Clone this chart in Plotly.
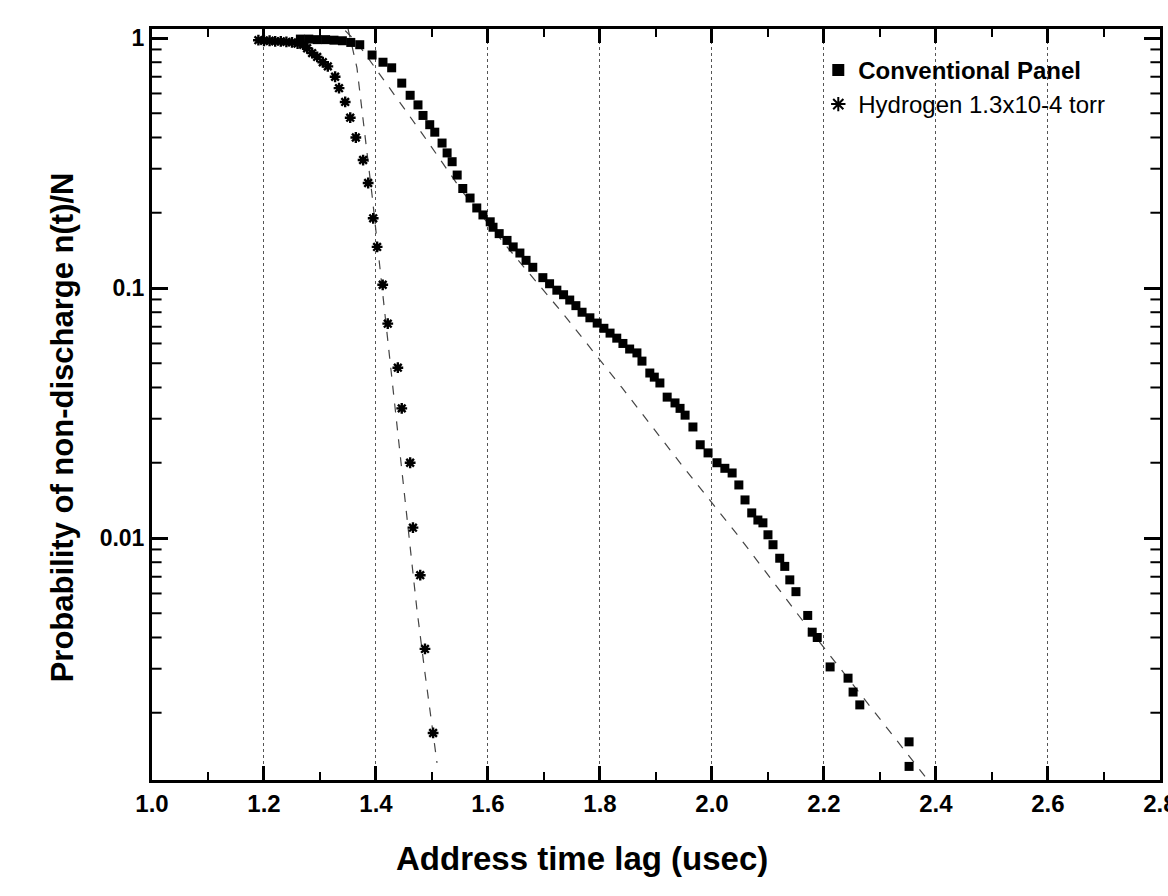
import plotly.graph_objects as go

# ---- data ----
conv_t = [1.265, 1.28, 1.295, 1.31, 1.325, 1.34, 1.355, 1.371, 1.393, 1.4125, 1.428, 1.446, 1.461,
          1.475, 1.484, 1.496, 1.505, 1.518, 1.527, 1.536, 1.545, 1.555, 1.568, 1.580, 1.591, 1.604,
          1.609, 1.620, 1.634, 1.645, 1.657, 1.668, 1.680, 1.698, 1.710, 1.723, 1.735, 1.746, 1.757,
          1.768, 1.782, 1.795, 1.807, 1.818, 1.830, 1.841, 1.853, 1.866, 1.875, 1.889, 1.897, 1.907,
          1.920, 1.934, 1.943, 1.952, 1.966, 1.979, 1.993, 2.009, 2.023, 2.036, 2.048, 2.059, 2.071,
          2.082, 2.091, 2.100, 2.109, 2.121, 2.130, 2.139, 2.150, 2.171, 2.179, 2.188, 2.211, 2.243,
          2.252, 2.264, 2.352, 2.352]
conv_p = [0.99, 0.99, 0.985, 0.985, 0.98, 0.975, 0.96, 0.94, 0.855, 0.80, 0.76, 0.66, 0.59,
          0.54, 0.49, 0.45, 0.42, 0.38, 0.347, 0.32, 0.283, 0.25, 0.229, 0.209, 0.196, 0.184,
          0.175, 0.165, 0.155, 0.146, 0.138, 0.129, 0.121, 0.110, 0.104, 0.098, 0.094, 0.0895, 0.085,
          0.080, 0.076, 0.0724, 0.069, 0.066, 0.063, 0.060, 0.057, 0.055, 0.051, 0.0457, 0.044, 0.0417,
          0.0366, 0.0347, 0.033, 0.031, 0.0278, 0.0236, 0.0219, 0.020, 0.019, 0.0182, 0.0163, 0.0142, 0.0126,
          0.0118, 0.0115, 0.0103, 0.0094, 0.0083, 0.0077, 0.0068, 0.0061, 0.0049, 0.0042, 0.0040, 0.00305, 0.00275,
          0.00242, 0.00215, 0.00153, 0.00122]

hyd_t = [1.19, 1.20, 1.21, 1.22, 1.23, 1.24, 1.25, 1.26, 1.27, 1.277, 1.286, 1.295, 1.305, 1.314,
         1.327, 1.334, 1.345, 1.354, 1.364, 1.377, 1.386, 1.395, 1.402, 1.412, 1.421, 1.439, 1.446,
         1.461, 1.466, 1.479, 1.4875, 1.502]
hyd_p = [0.98, 0.975, 0.975, 0.97, 0.97, 0.965, 0.96, 0.95, 0.94, 0.91, 0.87, 0.84, 0.80, 0.77,
         0.70, 0.63, 0.555, 0.48, 0.40, 0.325, 0.263, 0.19, 0.146, 0.103, 0.072, 0.048, 0.033,
         0.020, 0.011, 0.0071, 0.0036, 0.00166]

conv_fit_t = [1.345, 1.366, 1.42, 1.484, 1.555, 1.634, 1.734, 1.839, 1.946, 2.050, 2.157, 2.264, 2.371, 2.385]
conv_fit_p = [1.07, 0.96, 0.65, 0.41, 0.242, 0.146, 0.079, 0.040, 0.0196, 0.0100, 0.00483, 0.0024, 0.00118, 0.00108]

hyd_fit_t = [1.350, 1.366, 1.393, 1.448, 1.473, 1.4875, 1.509]
hyd_fit_p = [1.09, 0.76, 0.235, 0.0171, 0.0052, 0.00288, 0.00126]

x_ticks = [1.0, 1.2, 1.4, 1.6, 1.8, 2.0, 2.2, 2.4, 2.6, 2.8]
x_tick_text = ["1.0", "1.2", "1.4", "1.6", "1.8", "2.0", "2.2", "2.4", "2.6", "2.8"]
x_minor = [1.1, 1.3, 1.5, 1.7, 1.9, 2.1, 2.3, 2.5, 2.7]
y_ticks = [1, 0.1, 0.01]
y_tick_text = ["1", "0.1", "0.01"]
y_minor = [m * 10.0 ** e for e in (-3, -2, -1) for m in range(2, 10)]

fig = go.Figure()

fig.add_trace(go.Scatter(x=conv_fit_t, y=conv_fit_p, mode="lines",
                         line=dict(color="#444", width=1.2, dash="dash"),
                         showlegend=False, hoverinfo="skip"))
fig.add_trace(go.Scatter(x=hyd_fit_t, y=hyd_fit_p, mode="lines",
                         line=dict(color="#444", width=1.2, dash="dash"),
                         showlegend=False, hoverinfo="skip"))

fig.add_trace(go.Scatter(x=conv_t, y=conv_p, mode="markers",
                         name="<b>Conventional Panel</b>",
                         marker=dict(symbol="square", size=9, color="black")))
fig.add_trace(go.Scatter(x=hyd_t, y=hyd_p, mode="markers",
                         name="Hydrogen 1.3x10-4 torr",
                         marker=dict(symbol="asterisk-open", size=9, color="black",
                                     line=dict(color="black", width=2.4))))

# minor ticks on the log axis (left and mirrored right), as axis decoration
shapes = []
for v in y_minor:
    if 10 ** -2.968 < v < 10 ** 0.036:
        shapes.append(dict(type="line", xref="x domain", yref="y", x0=0, x1=0.0095, y0=v, y1=v,
                           line=dict(color="black", width=2)))
        shapes.append(dict(type="line", xref="x domain", yref="y", x0=0.9905, x1=1, y0=v, y1=v,
                           line=dict(color="black", width=2)))

fig.update_layout(
    width=1168, height=896,
    margin=dict(l=152, r=8, t=29, b=116),
    paper_bgcolor="white", plot_bgcolor="white",
    showlegend=True,
    shapes=shapes,
    legend=dict(x=0.661, y=0.975, xanchor="left", yanchor="top",
                bgcolor="rgba(0,0,0,0)", borderwidth=0,
                font=dict(family="Liberation Sans, Arial", size=24, color="black"),
                itemsizing="constant", tracegroupgap=0),
    xaxis=dict(range=[1.0, 2.8001], tickvals=x_ticks, automargin=False,
               ticktext=["<b>%s</b>" % t for t in x_tick_text],
               ticklabeloverflow="allow",
               ticks="inside", ticklen=14, tickwidth=3, tickcolor="black",
               showline=True, linewidth=3, linecolor="black", mirror="ticks",
               showgrid=True, gridcolor="#555", gridwidth=1, griddash="dot",
               zeroline=False,
               minor=dict(tickmode="array", tickvals=x_minor, ticks="inside", ticklen=8,
                          tickwidth=2, tickcolor="black", showgrid=False),
               tickfont=dict(family="Liberation Sans Narrow, Liberation Sans, Arial", size=24, color="black")),
    yaxis=dict(type="log", range=[-2.968, 0.036], tickvals=y_ticks, automargin=False,
               ticktext=["<b>%s</b>" % t for t in y_tick_text],
               ticks="inside", ticklen=16, tickwidth=3, tickcolor="black",
               showline=True, linewidth=3, linecolor="black", mirror="ticks",
               showgrid=False, zeroline=False,
               tickfont=dict(family="Liberation Sans, Arial", size=23, color="black")),
    annotations=[
        dict(text="<b>Address time lag (usec)</b>", xref="paper", yref="paper",
             x=0.427, y=-0.104, xanchor="center", yanchor="middle", showarrow=False,
             font=dict(family="Liberation Sans, Arial", size=33, color="black")),
        dict(text="<b>Probability of non-discharge n(t)/N</b>", xref="paper", yref="paper",
             x=-0.089, y=0.47, xanchor="center", yanchor="middle", showarrow=False, textangle=-90,
             font=dict(family="Liberation Sans, Arial", size=31, color="black")),
    ],
)

fig.write_html("out.html")
